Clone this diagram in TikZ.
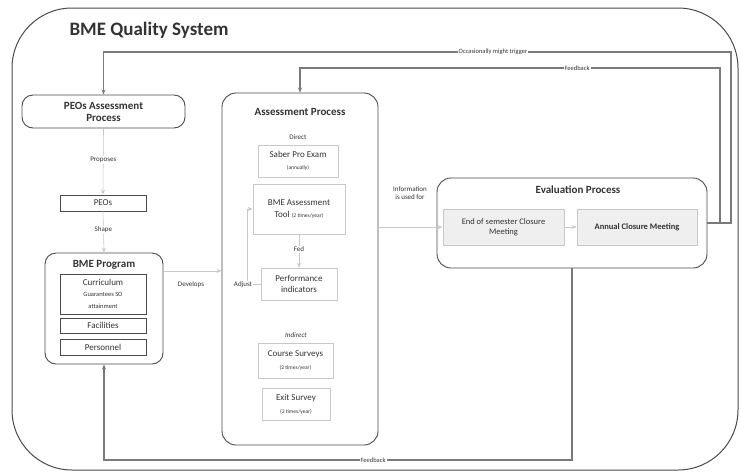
\documentclass[tikz,border=0pt]{standalone}
\usepackage{fontspec}
\setmainfont{Carlito}
\usetikzlibrary{arrows.meta}
\definecolor{ink}{HTML}{333333}
\definecolor{edge}{HTML}{4A4A4A}
\definecolor{wire}{HTML}{7A7A7A}
\definecolor{pale}{HTML}{C8C8C8}
\definecolor{shade}{HTML}{EFEFEF}
\tikzset{
  every node/.style={text=ink, inner sep=1pt, align=center},
  procbox/.style={draw=edge, line width=0.9pt, rounded corners=11pt},
  darkbox/.style={draw=edge, line width=0.8pt},
  lightbox/.style={draw=pale, line width=0.7pt, fill=white},
  evalbox/.style={draw=pale, line width=0.8pt, fill=shade},
  wireline/.style={draw=wire, line width=1.2pt},
  faintline/.style={draw=pale, line width=0.6pt},
  tip/.style={-{Stealth[length=5pt,width=4pt]}},
  lbl/.style={font=\fontsize{7}{8}\selectfont, fill=white, inner sep=1pt},
}
\newcommand{\itemfont}{\fontsize{9}{10.5}\selectfont}
\newcommand{\tinyfont}{\fontsize{5.5}{7}\selectfont}
\newcommand{\notefont}{\fontsize{6.5}{8}\selectfont}
\begin{document}
\begin{tikzpicture}[x=1pt,y=-1pt]
\useasboundingbox (0,0) rectangle (741,475);

% outer container
\node (qs) [draw=edge, line width=1pt, rounded corners=60pt,
  minimum width=726pt, minimum height=462pt] at (375,239) {};
\node (title) [font=\fontsize{19}{21}\selectfont\bfseries] at (149,30) {BME Quality System};

% left column
\node (peoa) [procbox, minimum width=163pt, minimum height=33pt,
  font=\fontsize{11}{12}\selectfont\bfseries] at (103.5,111.5) {PEOs Assessment\\Process};
\node (peos) [darkbox, minimum width=86pt, minimum height=16pt,
  font=\itemfont] at (103,203) {PEOs};
\node (bme) [procbox, minimum width=118pt, minimum height=111pt] at (104,308.5) {};
\node (bmet) [font=\fontsize{11}{12}\selectfont\bfseries] at (104,265) {BME Program};
\node (curr) [darkbox, minimum width=86pt, minimum height=40pt] at (103,294)
  {\itemfont Curriculum\\[-1pt]\notefont Guarantees SO\\\notefont attainment};
\node (fac) [darkbox, minimum width=86pt, minimum height=15pt,
  font=\itemfont] at (103,325.5) {Facilities};
\node (pers) [darkbox, minimum width=86pt, minimum height=16pt,
  font=\itemfont] at (103,347) {Personnel};

% assessment process
\node (assess) [procbox, rounded corners=14pt, minimum width=156pt, minimum height=352pt] at (300,269) {};
\node (assesst) [font=\fontsize{11}{12}\selectfont\bfseries] at (300,112) {Assessment Process};
\node (direct) [font=\fontsize{7}{8}\selectfont] at (298,137) {Direct};
\node (saber) [lightbox, minimum width=80pt, minimum height=32pt] at (298,161)
  {\itemfont Saber Pro Exam\\\tinyfont (annually)};
\node (tool) [lightbox, minimum width=92pt, minimum height=50pt] at (299,209)
  {\itemfont BME Assessment\\\itemfont Tool {\tinyfont(2 times/year)}};
\node (perf) [lightbox, minimum width=76pt, minimum height=32pt,
  font=\itemfont] at (299,284) {Performance\\indicators};
\node (indirect) [font=\fontsize{7}{8}\selectfont\itshape] at (296,335) {Indirect};
\node (course) [lightbox, minimum width=75pt, minimum height=35pt] at (295.5,360.5)
  {\itemfont Course Surveys\\[1pt]\tinyfont (2 times/year)};
\node (exit) [lightbox, minimum width=68pt, minimum height=32pt] at (296,404)
  {\itemfont Exit Survey\\[1pt]\tinyfont (2 times/year)};

% evaluation process
\node (eval) [procbox, rounded corners=14pt, minimum width=270pt, minimum height=90pt] at (572,223) {};
\node (evalt) [font=\fontsize{11}{12}\selectfont\bfseries] at (578,190) {Evaluation Process};
\node (endsem) [evalbox, minimum width=121pt, minimum height=36pt,
  font=\fontsize{8.5}{10}\selectfont] at (503.5,227) {End of semester Closure\\Meeting};
\node (annual) [evalbox, minimum width=120pt, minimum height=36pt,
  font=\fontsize{8.5}{10}\selectfont\bfseries] at (637,227) {Annual Closure Meeting};

% faint internal connectors
\draw[faintline, tip] (peoa.south) -- node[lbl, pos=0.48] {Proposes} (peos.north);
\draw[faintline, tip] (peos.south) -- node[lbl, pos=0.45] {Shape} (bme.north);
\draw[faintline, tip] (bme.east |- 0,271) -- (assess.west |- 0,271);
\node (develops) [lbl] at (191,285) {Develops};
\draw[faintline, tip] (tool.south) -- node[lbl, pos=0.45] {Fed} (perf.north);
\draw[faintline, tip] (perf.west) -| (247,209) -- (tool.west);
\node (adjust) [lbl] at (243,285) {Adjust};
\draw[faintline, tip] (assess.east |- endsem.west) -- (endsem.west);
\node (info) [lbl, font=\fontsize{7}{8.5}\selectfont] at (410,193) {Information\\is used for};
\draw[faintline, tip] (endsem.east) -- (annual.west);

% feedback loops
\draw[wireline, tip] (eval.east) -| (731,52) -| (peoa.north);
\node (trigger) [lbl, font=\fontsize{6.5}{7.5}\selectfont] at (493,52) {Occasionally might trigger};
\draw[wireline, tip] (eval.east) -| (720,68) -| (assess.north);
\node (fbtop) [lbl, font=\fontsize{6.5}{7.5}\selectfont] at (577,68) {Feedback};
\coordinate (fbturn) at (104,460);
\draw[wireline, tip] (eval.south) |- (fbturn) -- (bme.south);
\node (fbbottom) [lbl, font=\fontsize{6.5}{7.5}\selectfont] at (373,460) {Feedback};
\end{tikzpicture}
\end{document}
